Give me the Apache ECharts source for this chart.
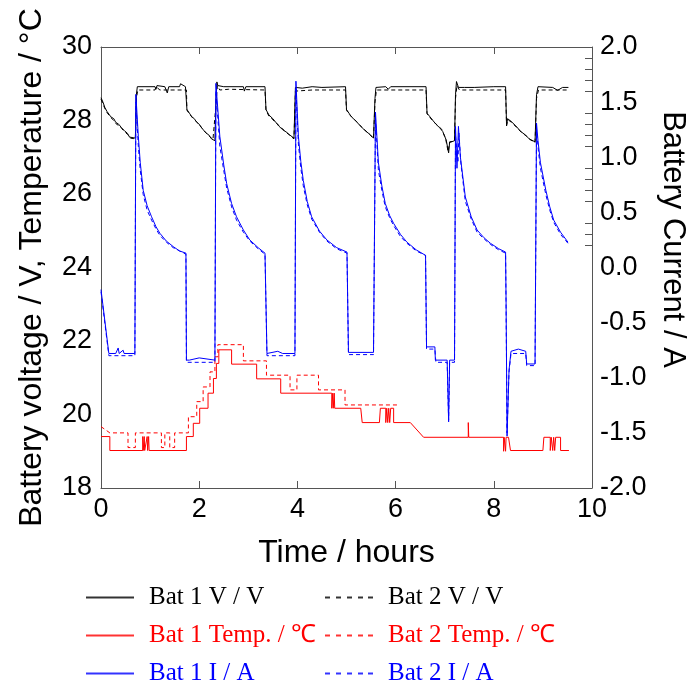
<!DOCTYPE html>
<html>
<head>
<meta charset="UTF-8">
<title>Battery cycling</title>
<script src="https://cdn.jsdelivr.net/npm/echarts@6/dist/echarts.min.js"></script>
<style>
  html, body { margin: 0; padding: 0; background: #fff; }
  #main { width: 697px; height: 689px; }
</style>
</head>
<body>
<div id="main"></div>
<script type="text/javascript">
// [time (h), value] pairs
var bat1V = [[0,28.62],[0.04,28.5],[0.08,28.35],[0.12,28.25],[0.16,28.2],[0.2,28.1],[0.26,28.05],[0.3,27.95],[0.36,27.9],[0.42,27.8],[0.48,27.72],[0.54,27.65],[0.58,27.55],[0.7,27.52],
  [0.72,28.7],[0.74,28.92],[1.1,28.92],[1.12,28.85],[1.14,28.95],[1.3,28.92],[1.35,28.75],[1.38,28.92],[1.6,28.92],[1.62,29.0],[1.72,28.92],[1.74,28.9],
  [1.75,28.3],[1.8,28.2],[1.85,28.1],[1.9,28.05],[1.95,27.95],[2.0,27.9],[2.05,27.8],[2.1,27.72],[2.15,27.65],[2.2,27.6],[2.25,27.5],[2.32,27.45],
  [2.34,28.5],[2.36,29.05],[2.38,28.95],[2.42,28.9],[2.5,28.92],[2.9,28.92],[2.92,28.8],[2.95,28.92],[3.34,28.92],
  [3.36,28.3],[3.42,28.15],[3.5,28.05],[3.56,27.95],[3.62,27.85],[3.7,27.75],[3.78,27.68],[3.85,27.6],[3.93,27.52],
  [3.96,28.9],[4.0,28.92],[4.1,28.88],[4.3,28.92],[4.5,28.9],[4.98,28.92],
  [5.0,28.3],[5.05,28.2],[5.1,28.1],[5.18,28.0],[5.25,27.9],[5.32,27.8],[5.4,27.7],[5.48,27.62],[5.55,27.52],
  [5.58,28.6],[5.6,28.9],[5.8,28.92],[5.85,28.85],[5.9,28.92],[6.62,28.92],
  [6.64,28.2],[6.7,28.1],[6.76,28.0],[6.82,27.9],[6.9,27.8],[6.96,27.7],[7.03,27.47],[7.08,27.12],[7.1,27.4],[7.2,27.45],
  [7.22,28.7],[7.24,29.06],[7.28,28.9],[7.4,28.9],[7.6,28.9],[8.0,28.92],[8.24,28.92],
  [8.26,27.85],[8.28,28.05],[8.35,27.98],[8.45,27.85],[8.55,27.7],[8.65,27.6],[8.72,27.5],[8.84,27.42],
  [8.87,28.7],[8.9,28.92],[9.2,28.9],[9.3,28.82],[9.4,28.9],[9.52,28.9]];

var bat2V = [[0,28.58],[0.04,28.45],[0.08,28.32],[0.12,28.22],[0.16,28.15],[0.2,28.08],[0.26,28.0],[0.3,27.92],[0.36,27.86],[0.42,27.78],[0.48,27.7],[0.54,27.62],[0.6,27.52],[0.7,27.5],
  [0.72,28.6],[0.75,28.83],[1.1,28.83],[1.12,28.92],[1.2,28.83],[1.74,28.83],
  [1.75,28.28],[1.8,28.18],[1.86,28.08],[1.92,28.0],[1.98,27.92],[2.04,27.82],[2.1,27.72],[2.16,27.63],[2.22,27.56],[2.28,27.48],[2.32,27.44],
  [2.34,28.4],[2.37,28.95],[2.42,28.83],[2.6,28.85],[3.34,28.83],
  [3.36,28.28],[3.42,28.12],[3.5,28.02],[3.58,27.92],[3.66,27.82],[3.74,27.72],[3.82,27.62],[3.93,27.5],
  [3.96,28.8],[4.0,28.83],[4.3,28.83],[4.32,28.88],[4.4,28.83],[4.98,28.83],
  [5.0,28.28],[5.06,28.16],[5.12,28.08],[5.2,27.98],[5.28,27.86],[5.36,27.76],[5.44,27.66],[5.5,27.58],[5.55,27.5],
  [5.58,28.5],[5.61,28.83],[6.62,28.83],
  [6.64,28.18],[6.7,28.08],[6.78,27.96],[6.86,27.86],[6.94,27.76],[7.02,27.5],[7.07,27.15],[7.1,27.42],[7.2,27.44],
  [7.22,28.6],[7.25,28.95],[7.3,28.83],[8.24,28.83],
  [8.26,27.88],[8.29,28.02],[8.36,27.95],[8.46,27.82],[8.56,27.68],[8.66,27.58],[8.74,27.48],[8.84,27.4],
  [8.87,28.6],[8.91,28.83],[9.52,28.83]];

var bat1T = [[0,19.4],[0.18,19.4],[0.18,19.02],[0.85,19.02],[0.85,19.4],[0.86,19.02],[0.88,19.4],[0.89,19.02],[0.94,19.4],[0.95,19.02],[0.97,19.4],[0.98,19.02],
  [1.74,19.02],[1.74,19.4],[1.88,19.4],[1.88,19.76],[2.01,19.76],[2.01,20.17],[2.18,20.17],[2.18,20.58],[2.29,20.58],[2.29,20.98],[2.35,20.98],[2.35,21.39],[2.4,21.39],[2.4,21.76],
  [2.66,21.76],[2.66,21.37],[3.17,21.37],[3.17,20.97],[3.66,20.97],[3.66,20.58],[4.7,20.58],[4.7,20.17],[4.72,20.58],[4.73,20.17],[4.75,20.58],[4.76,20.17],
  [5.29,20.17],[5.32,19.78],[5.67,19.78],[5.69,20.17],[5.8,20.17],[5.8,19.78],[5.82,20.17],[5.84,19.78],[5.86,20.17],[5.88,19.78],[5.9,20.17],[5.96,20.17],[5.96,19.78],
  [6.3,19.78],[6.57,19.38],[7.48,19.38],[7.48,19.78],[7.49,19.38],[8.2,19.38],[8.2,19.0],[8.21,19.38],[8.24,19.38],[8.24,19.0],[8.25,19.38],[8.3,19.38],[8.34,19.02],
  [9.0,19.02],[9.02,19.38],[9.15,19.38],[9.15,19.02],[9.17,19.38],[9.2,19.02],[9.22,19.38],[9.24,19.02],[9.26,19.38],[9.36,19.38],[9.36,19.02],[9.53,19.02]];

var bat2T = [[0,19.67],[0.18,19.5],[0.55,19.5],[0.55,19.1],[0.7,19.1],[0.7,19.5],[1.23,19.5],[1.23,19.1],[1.3,19.1],[1.3,19.5],[1.4,19.5],[1.4,19.1],[1.5,19.1],[1.5,19.5],
  [1.78,19.5],[1.78,19.94],[1.95,19.94],[1.95,20.35],[2.08,20.35],[2.08,20.75],[2.22,20.75],[2.22,21.16],[2.32,21.16],[2.32,21.57],[2.38,21.57],[2.38,21.9],
  [2.9,21.9],[2.9,21.46],[3.37,21.46],[3.37,21.07],[3.85,21.07],[3.85,20.67],[3.99,20.67],[3.99,21.07],[4.43,21.07],[4.43,20.67],[4.97,20.67],[4.97,20.26],[6.06,20.26]];

var bat1I = [[0,-0.2],[0.16,-0.78],[0.3,-0.78],[0.35,-0.73],[0.37,-0.78],[0.45,-0.75],[0.47,-0.78],[0.69,-0.78],
  [0.71,1.57],[0.76,1.19],[0.8,0.95],[0.86,0.70],[0.94,0.56],[1.03,0.46],[1.12,0.37],[1.2,0.31],[1.33,0.24],[1.47,0.19],[1.6,0.15],[1.73,0.13],
  [1.74,-0.84],[1.8,-0.84],[2.0,-0.82],[2.32,-0.84],
  [2.34,1.67],[2.42,1.19],[2.5,0.93],[2.56,0.76],[2.66,0.58],[2.76,0.46],[2.9,0.34],[3.03,0.25],[3.2,0.18],[3.34,0.13],
  [3.38,-0.78],[3.6,-0.76],[3.7,-0.78],[3.95,-0.78],
  [3.97,1.69],[4.02,1.19],[4.07,0.96],[4.12,0.79],[4.2,0.6],[4.29,0.46],[4.45,0.33],[4.6,0.25],[4.8,0.18],[5.01,0.14],
  [5.04,-0.77],[5.55,-0.77],
  [5.59,1.41],[5.65,0.95],[5.72,0.74],[5.79,0.58],[5.88,0.47],[5.96,0.40],[6.1,0.3],[6.23,0.23],[6.42,0.16],[6.61,0.11],
  [6.63,-0.72],[6.8,-0.72],[6.81,-0.84],[7.05,-0.84],[7.08,-1.4],[7.1,-0.84],[7.2,-0.84],
  [7.22,1.28],[7.25,0.9],[7.28,1.28],[7.32,1.0],[7.42,0.64],[7.54,0.46],[7.66,0.34],[7.8,0.27],[7.93,0.22],[8.1,0.17],[8.24,0.14],
  [8.25,-0.3],[8.27,-1.53],[8.31,-0.93],[8.35,-0.76],[8.5,-0.74],[8.65,-0.76],[8.67,-0.875],[8.84,-0.875],
  [8.87,1.31],[8.9,1.15],[8.95,0.95],[9.06,0.70],[9.14,0.55],[9.22,0.43],[9.36,0.32],[9.51,0.23]];

var bat2I = [[0,-0.22],[0.16,-0.8],[0.69,-0.8],
  [0.71,1.5],[0.76,1.1],[0.8,0.88],[0.86,0.66],[0.94,0.52],[1.03,0.43],[1.12,0.35],[1.2,0.29],[1.33,0.23],[1.47,0.18],[1.6,0.15],[1.73,0.12],
  [1.74,-0.86],[2.32,-0.86],
  [2.34,1.6],[2.42,1.1],[2.5,0.88],[2.56,0.72],[2.66,0.55],[2.76,0.43],[2.9,0.32],[3.03,0.24],[3.2,0.17],[3.34,0.12],
  [3.38,-0.8],[3.95,-0.8],
  [3.97,1.62],[4.02,1.12],[4.07,0.9],[4.12,0.74],[4.2,0.57],[4.29,0.44],[4.45,0.32],[4.6,0.24],[4.8,0.17],[5.01,0.13],
  [5.04,-0.79],[5.55,-0.79],
  [5.59,1.35],[5.65,0.88],[5.72,0.7],[5.79,0.55],[5.88,0.45],[5.96,0.38],[6.1,0.28],[6.23,0.22],[6.42,0.15],[6.61,0.11],
  [6.63,-0.74],[6.8,-0.74],[6.82,-0.86],[7.05,-0.86],[7.08,-1.38],[7.1,-0.86],[7.2,-0.86],
  [7.22,1.2],[7.27,0.95],[7.29,1.22],[7.33,0.94],[7.42,0.6],[7.54,0.44],[7.66,0.32],[7.8,0.26],[7.93,0.21],[8.1,0.16],[8.24,0.13],
  [8.25,-0.35],[8.27,-1.5],[8.31,-0.95],[8.35,-0.78],[8.65,-0.78],[8.67,-0.89],[8.84,-0.89],
  [8.87,1.25],[8.91,1.05],[8.95,0.9],[9.06,0.66],[9.14,0.52],[9.22,0.41],[9.36,0.3],[9.51,0.22]];

// small inner ticks seen on the right axis
var currentTicks = [0.2,0.3,0.4,0.6,0.7,0.8,0.9,1.1,1.2,1.3,1.4,1.6,1.7,1.8,1.9,2.0];

var names = ['Bat 1 V / V', 'Bat 2 V / V', 'Bat 1 Temp. / \u2103', 'Bat 2 Temp. / \u2103', 'Bat 1 I / A', 'Bat 2 I / A'];

var BLACK = '#000000', RED = '#ff0000', BLUE = '#0000ff';
var axisCol = '#555555';
var sans = 'Liberation Sans, Arial, sans-serif';
var serif = 'Liberation Serif, Times New Roman, serif';

// legend keys: plain strokes, no marker
var solidIcon = 'path://M0,0h48v2h-48z';
var dashIcon = 'path://M0,0h5v2h-5z M11,0h5v2h-5z M22,0h5v2h-5z M33,0h5v2h-5z M43,0h5v2h-5z';

function line(name, data, color, dashed, yIdx) {
  return {
    name: name, type: 'line', data: data, yAxisIndex: yIdx,
    symbol: 'none', showSymbol: false, silent: true,
    lineStyle: { color: color, width: 1, type: dashed ? [4, 3] : 'solid' },
    itemStyle: { color: color }
  };
}

function legendItem(name, color, dashed) {
  return {
    name: name, icon: dashed ? dashIcon : solidIcon,
    itemStyle: { color: color, borderWidth: 0, opacity: 0.8 },
    textStyle: { color: color }
  };
}

function legendCol(left, items) {
  return {
    orient: 'vertical', left: left, top: 585, padding: 0,
    itemWidth: 48, itemHeight: 2, itemGap: 13,
    textStyle: { fontFamily: serif, fontSize: 25, lineHeight: 24, padding: [0, 0, 0, 10] },
    data: items
  };
}

var option = {
  animation: false,
  backgroundColor: '#ffffff',
  grid: { left: 101, right: 105, top: 47, bottom: 201, containLabel: false },
  legend: [
    legendCol(86, [legendItem(names[0], BLACK, false), legendItem(names[2], RED, false), legendItem(names[4], BLUE, false)]),
    legendCol(325, [legendItem(names[1], BLACK, true), legendItem(names[3], RED, true), legendItem(names[5], BLUE, true)])
  ],
  xAxis: [{
    type: 'value', min: 0, max: 10, interval: 2, position: 'bottom',
    name: 'Time / hours', nameLocation: 'middle', nameGap: 49,
    nameTextStyle: { fontFamily: sans, fontSize: 32, color: '#000' },
    axisLine: { show: true, onZero: false, lineStyle: { color: axisCol, width: 1 } },
    axisTick: { show: true, inside: true, length: 7, lineStyle: { color: axisCol } },
    axisLabel: { fontFamily: sans, fontSize: 27, color: '#000', margin: 8 },
    splitLine: { show: false }
  }, {
    type: 'value', min: 0, max: 10, interval: 2, position: 'top',
    axisLine: { show: true, onZero: false, lineStyle: { color: axisCol, width: 1 } },
    axisTick: { show: true, inside: true, length: 7, lineStyle: { color: axisCol } },
    axisLabel: { show: false },
    splitLine: { show: false }
  }],
  yAxis: [{
    type: 'value', min: 18, max: 30, interval: 2, position: 'left',
    name: 'Battery voltage / V, Temperature / \u00b0C', nameLocation: 'middle', nameGap: 53,
    nameTextStyle: { fontFamily: sans, fontSize: 32, color: '#000' },
    axisLine: { show: true, onZero: false, lineStyle: { color: axisCol, width: 1 } },
    axisTick: { show: false },
    axisLabel: { fontFamily: sans, fontSize: 27, color: '#000', margin: 9 },
    splitLine: { show: false }
  }, {
    type: 'value', min: -2, max: 2, interval: 0.5, position: 'right',
    name: 'Battery Current / A', nameLocation: 'middle', nameGap: 62, nameRotate: -90,
    nameTextStyle: { fontFamily: sans, fontSize: 31, color: '#000', padding: [0, 56, 0, 0] },
    axisLine: { show: true, onZero: false, lineStyle: { color: axisCol, width: 1 } },
    axisTick: { show: true, inside: true, length: 7, customValues: currentTicks, lineStyle: { color: axisCol } },
    axisLabel: {
      fontFamily: sans, fontSize: 27, color: '#000', margin: 8,
      formatter: function (v) { return v.toFixed(1); }
    },
    splitLine: { show: false }
  }],
  series: [
    line(names[0], bat1V, BLACK, false, 0),
    line(names[1], bat2V, BLACK, true, 0),
    line(names[2], bat1T, RED, false, 0),
    line(names[3], bat2T, RED, true, 0),
    line(names[4], bat1I, BLUE, false, 1),
    line(names[5], bat2I, BLUE, true, 1)
  ]
};

var myChart = echarts.init(document.getElementById('main'));
myChart.setOption(option);
</script>
</body>
</html>
